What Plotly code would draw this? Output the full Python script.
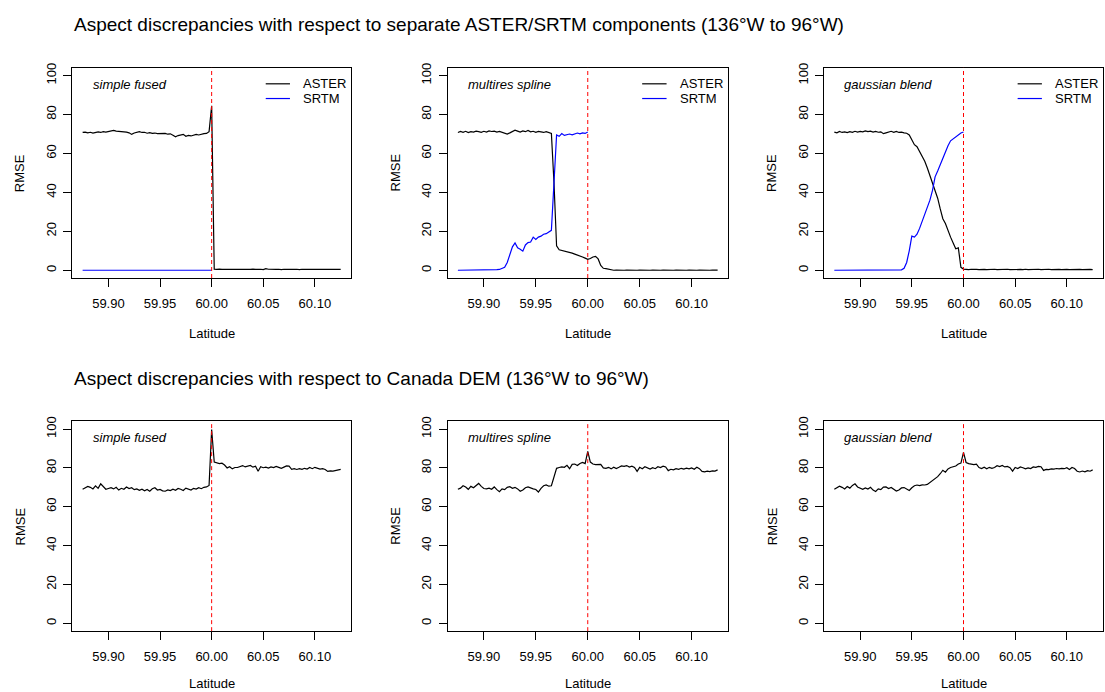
import plotly.graph_objects as go

# ---------------- data ----------------
LAT = [round(59.875 + 0.0025 * i, 4) for i in range(101)]
BOUNDARY_LAT = 60.0
X_TICKS = [59.90, 59.95, 60.00, 60.05, 60.10]
Y_TICKS = [0, 20, 40, 60, 80, 100]

TOP_TITLE = "Aspect discrepancies with respect to separate ASTER/SRTM components (136\u00b0W to 96\u00b0W)"
BOTTOM_TITLE = "Aspect discrepancies with respect to Canada DEM (136\u00b0W to 96\u00b0W)"
PANEL_NAMES = ["simple fused", "multires spline", "gaussian blend"]
SERIES_NAMES = ["ASTER", "SRTM"]

# top row: RMSE vs separate ASTER / SRTM components
FUSED_ASTER = [
    70.8, 71.0, 70.6, 70.9, 70.5, 70.9, 71.1, 70.8, 71.2, 71.0,
    71.4, 71.6, 71.9, 71.5, 71.4, 71.0, 71.2, 71.0, 70.6, 69.8,
    70.5, 70.9, 71.2, 70.8, 70.9, 70.4, 70.7, 70.3, 70.5, 70.2,
    70.2, 70.0, 70.3, 69.9, 70.1, 69.4, 68.6, 69.2, 69.5, 69.8,
    68.8, 69.3, 69.0, 69.6, 69.8, 69.5, 70.0, 70.2, 70.3, 71.2,
    84.5,
    0.5, 0.4, 0.6, 0.4, 0.5, 0.3, 0.5, 0.4, 0.6, 0.5,
    0.4, 0.5, 0.3, 0.5, 0.4, 0.6, 0.4, 0.5, 0.5, 0.3,
    0.8, 0.5, 0.4, 0.6, 0.4, 0.5, 0.3, 0.5, 0.4, 0.6,
    0.5, 0.4, 0.5, 0.3, 0.5, 0.4, 0.6, 0.4, 0.5, 0.5,
    0.3, 0.6, 0.5, 0.4, 0.6, 0.4, 0.5, 0.3, 0.5, 0.4,
]
FUSED_SRTM = [
    0, 0, 0, 0, 0, 0, 0, 0, 0, 0,
    0, 0, 0, 0, 0, 0, 0, 0, 0, 0,
    0, 0, 0, 0, 0, 0, 0, 0, 0, 0,
    0, 0, 0, 0, 0, 0, 0, 0, 0, 0,
    0, 0, 0, 0, 0, 0, 0, 0, 0, 0,
    0,
]
SPLINE_ASTER = [
    70.8, 71.3, 70.9, 71.4, 70.7, 71.2, 71.0, 71.5, 71.2, 70.9,
    71.4, 71.0, 71.6, 71.3, 71.5, 71.0, 71.3, 70.8, 70.4, 70.0,
    70.6, 71.2, 72.0, 71.5, 71.0, 71.6, 71.2, 71.8, 71.1, 71.4,
    70.9, 71.3, 71.0, 70.8, 71.2, 70.7, 70.3,
    45.0, 12.5, 10.5, 10.2, 10.0, 9.6, 9.2, 8.8, 8.3, 7.9, 7.4, 6.8,
    6.2, 5.6, 6.0, 6.8, 7.1, 5.8, 2.5, 1.0, 0.8, 0.6, 0.1,
    0.0, 0.1, 0.0, 0.1, 0.0, 0.1, 0.0, 0.0, 0.1, 0.0,
    0.1, 0.0, 0.1, 0.0, 0.0, 0.1, 0.0, 0.1, 0.0, 0.1,
    0.0, 0.0, 0.1, 0.0, 0.1, 0.0, 0.1, 0.0, 0.0, 0.1,
    0.0, 0.1, 0.0, 0.1, 0.0, 0.0, 0.1, 0.0, 0.1, 0.0,
    0.1,
]
SPLINE_SRTM = [
    0, 0, 0, 0, 0, 0, 0, 0, 0, 0, 0, 0,
    0.1, 0.3, 0.3, 0.3, 0.4, 0.8, 1.5, 4.0, 8.5, 12.0,
    14.0, 11.5, 10.8, 9.8, 13.0, 14.2, 14.5, 17.0, 15.8, 17.0,
    17.5, 18.5, 18.8, 19.5, 20.5, 45.0, 69.5, 68.8, 70.2, 69.3,
    69.8, 70.0, 69.6, 70.2, 70.5, 70.1, 70.6, 70.3, 71.0,
]
BLEND_ASTER = [
    71.0, 70.6, 71.3, 70.8, 71.1, 70.7, 71.2, 70.9, 71.4, 71.0,
    71.3, 71.1, 71.6, 71.2, 71.5, 71.0, 71.3, 70.9, 71.1, 70.2,
    70.6, 71.0, 71.4, 70.9, 71.3, 70.8, 71.0, 70.6, 70.4,
    69.5, 67.0, 64.5, 63.5, 61.0, 58.5, 56.0, 52.5, 48.5, 45.0,
    40.5, 37.0, 31.5, 26.5, 24.0, 20.0, 17.0, 14.0, 11.0, 11.5,
    1.5, 0.6,
    0.4, 0.3, 0.5, 0.3, 0.4, 0.3, 0.5, 0.4, 0.3, 0.4,
    0.3, 0.5, 0.3, 0.4, 0.3, 0.4, 0.5, 0.3, 0.4, 0.3,
    0.6, 0.4, 0.3, 0.5, 0.3, 0.4, 0.3, 0.4, 0.5, 0.3,
    0.4, 0.3, 0.5, 0.3, 0.4, 0.3, 0.4, 0.3, 0.5, 0.4,
    0.3, 0.4, 0.5, 0.3, 0.4, 0.3, 0.4, 0.3, 0.4, 0.3,
]
BLEND_SRTM = [
    0, 0, 0, 0, 0, 0, 0, 0, 0, 0,
    0, 0, 0, 0, 0, 0, 0, 0, 0, 0,
    0, 0, 0, 0, 0, 0,
    0.2, 1.0, 4.0, 10.0, 17.5, 17.0, 18.5, 21.5, 25.0, 28.5,
    32.0, 36.0, 41.0, 48.0, 51.0, 54.5, 58.0, 61.0, 64.0, 66.5,
    67.5, 68.8, 69.8, 70.5, 71.0,
]

# bottom row: RMSE vs Canada DEM
FUSED_CDEM = [
    69.0, 69.8, 70.5, 70.0, 69.2, 70.8, 69.5, 71.8, 70.2, 69.0,
    69.4, 69.8, 69.2, 70.0, 68.6, 69.5, 69.0, 70.2, 69.4, 69.8,
    68.8, 69.2, 68.5, 69.0, 68.2, 68.9, 68.0, 69.3, 69.8, 68.6,
    68.9, 68.2, 68.0, 68.7, 68.3, 69.0, 68.5, 69.4, 69.0, 68.4,
    69.6, 69.0, 68.6, 69.5, 69.1, 69.8, 69.3, 70.0, 70.2, 71.0,
    99.8,
    83.0, 82.5, 82.2, 82.4, 81.5, 80.0, 80.6, 79.5, 80.2, 80.2,
    80.9, 81.2, 80.5, 81.0, 81.3, 80.4, 80.9, 78.3, 80.6, 80.1,
    80.4, 79.9, 80.5, 80.2, 80.8, 80.3, 79.8, 80.4, 81.0, 80.9,
    79.3, 79.6, 79.2, 79.6, 79.3, 79.8, 79.4, 80.2, 79.6, 80.3,
    79.8, 79.4, 79.6, 79.2, 78.2, 78.5, 78.4, 78.6, 78.7, 79.2,
]
SPLINE_CDEM = [
    69.0, 69.6, 70.8, 70.2, 69.0, 70.5, 69.8, 71.0, 72.0, 70.5,
    69.4, 69.2, 69.6, 69.0, 70.2, 68.8, 67.8, 69.2, 68.8, 70.0,
    70.3, 69.5, 70.0, 69.2, 68.0, 68.6, 69.8, 70.2, 69.6, 69.2,
    68.9, 67.6, 69.5, 70.8, 71.2, 70.6, 70.8, 75.0, 79.8, 80.2,
    80.5, 80.3, 81.3, 79.6, 81.8, 82.0, 81.2, 82.3, 82.8, 82.2,
    88.5,
    83.0, 82.0, 81.7, 81.6, 81.8, 80.0, 79.8, 80.3, 79.5, 80.4,
    79.7, 80.3, 81.0, 80.8, 81.2, 80.4, 80.9, 80.2, 78.2, 80.3,
    79.6, 80.6, 80.0, 79.4, 80.1, 79.6, 80.6, 80.2, 80.9, 80.5,
    78.6, 79.3, 79.0, 79.6, 79.3, 79.8, 79.4, 79.9, 79.5, 80.0,
    79.3, 80.3, 79.6, 78.2, 78.0, 78.3, 78.1, 78.5, 78.4, 79.0,
]
BLEND_CDEM = [
    69.0, 69.8, 70.6, 70.0, 69.2, 70.4, 69.6, 71.0, 71.8, 70.2,
    69.4, 69.0, 69.7, 69.1, 70.0, 68.6, 67.9, 69.2, 68.8, 70.1,
    70.2, 69.4, 69.9, 69.0, 68.1, 68.6, 69.7, 69.9, 69.3, 68.4,
    69.8, 70.8, 71.2, 70.9, 71.3, 71.2, 71.5, 72.5, 73.5, 74.8,
    75.5, 77.0, 78.8, 77.8, 79.5, 80.2, 80.6, 81.0, 82.0, 82.5,
    88.0,
    82.8, 82.2, 81.9, 81.7, 81.9, 80.2, 79.7, 80.4, 79.6, 80.3,
    79.8, 80.2, 81.1, 80.7, 81.3, 80.5, 80.8, 80.1, 78.3, 80.2,
    79.7, 80.5, 80.1, 79.5, 80.0, 79.7, 80.5, 80.3, 80.8, 80.6,
    78.7, 79.2, 79.1, 79.5, 79.4, 79.7, 79.5, 79.8, 79.6, 80.1,
    79.2, 80.2, 79.7, 78.3, 77.9, 78.4, 78.0, 78.6, 78.3, 79.0,
]

TOP_SERIES = [(FUSED_ASTER, FUSED_SRTM), (SPLINE_ASTER, SPLINE_SRTM), (BLEND_ASTER, BLEND_SRTM)]
BOTTOM_SERIES = [FUSED_CDEM, SPLINE_CDEM, BLEND_CDEM]

# ---------------- styling / layout ----------------
W, H = 1105, 692
FONT = "Liberation Sans, Arial, Helvetica, sans-serif"
COLS = [(72.3, 351.0), (447.5, 728.0), (824.0, 1103.0)]
ROWS = [(63.3, 275.0), (419.3, 630.7)]
XTITLE_SHIFT = [-55, -52]
ASTER_COLOR = "#000000"
SRTM_COLOR = "#0000FF"
BOUNDARY_COLOR = "#FF0000"

fig = go.Figure()
annotations = []
shapes = []

def axis_ids(k):
    s = "" if k == 1 else str(k)
    return "x" + s, "y" + s, "xaxis" + s, "yaxis" + s

layout_axes = {}
k = 0
for r, (ry0, ry1) in enumerate(ROWS):
    for c, (cx0, cx1) in enumerate(COLS):
        k += 1
        xa, ya, xname, yname = axis_ids(k)
        layout_axes[xname] = dict(
            domain=[cx0 / W, cx1 / W], anchor=ya, range=[59.865, 60.135],
            tickmode="array", tickvals=X_TICKS, ticktext=[f"{v:.2f}" for v in X_TICKS],
            ticks="outside", ticklen=8, tickwidth=1, tickcolor="black",
            showline=True, mirror=True, linecolor="black", linewidth=1,
            showgrid=False, zeroline=False, ticklabelstandoff=5,
            tickfont=dict(size=13, color="black", family=FONT),
        )
        layout_axes[yname] = dict(
            domain=[1 - ry1 / H, 1 - ry0 / H], anchor=xa, range=[-4, 104],
            tickmode="array", tickvals=Y_TICKS, ticktext=[str(v) for v in Y_TICKS],
            tickangle=-90,
            ticks="outside", ticklen=8, tickwidth=1, tickcolor="black",
            showline=True, mirror=True, linecolor="black", linewidth=1,
            showgrid=False, zeroline=False, ticklabelstandoff=2,
            tickfont=dict(size=13, color="black", family=FONT),
        )
        # series
        if r == 0:
            aster, srtm = TOP_SERIES[c]
            fig.add_trace(go.Scatter(x=LAT[:len(aster)], y=aster, mode="lines",
                                     line=dict(color=ASTER_COLOR, width=1.2),
                                     name=SERIES_NAMES[0], showlegend=False, xaxis=xa, yaxis=ya))
            fig.add_trace(go.Scatter(x=LAT[:len(srtm)], y=srtm, mode="lines",
                                     line=dict(color=SRTM_COLOR, width=1.2),
                                     name=SERIES_NAMES[1], showlegend=False, xaxis=xa, yaxis=ya))
            # legend (R-style, no box)
            for j, (name, col) in enumerate(zip(SERIES_NAMES, [ASTER_COLOR, SRTM_COLOR])):
                ly = 0.924 - 0.07 * j
                shapes.append(dict(type="line", xref=xa + " domain", yref=ya + " domain",
                                   x0=0.694, x1=0.781, y0=ly, y1=ly,
                                   line=dict(color=col, width=1.2)))
                annotations.append(dict(text=name, xref=xa + " domain", yref=ya + " domain",
                                        x=0.82, y=ly, xanchor="left", yanchor="middle",
                                        showarrow=False, font=dict(size=13, color="black", family=FONT)))
        else:
            vals = BOTTOM_SERIES[c]
            fig.add_trace(go.Scatter(x=LAT[:len(vals)], y=vals, mode="lines",
                                     line=dict(color=ASTER_COLOR, width=1.2),
                                     name="Canada DEM", showlegend=False, xaxis=xa, yaxis=ya))
        # boundary dashed line
        shapes.append(dict(type="line", xref=xa, yref=ya + " domain",
                           x0=BOUNDARY_LAT, x1=BOUNDARY_LAT, y0=0, y1=1,
                           line=dict(color=BOUNDARY_COLOR, width=1, dash="4px,3px")))
        # panel label
        annotations.append(dict(text="<i>" + PANEL_NAMES[c] + "</i>", xref=xa + " domain", yref=ya + " domain",
                                x=0.066, y=0.923, xanchor="left", yanchor="middle", showarrow=False,
                                font=dict(size=13, color="black", family=FONT)))
        # axis titles
        annotations.append(dict(text="Latitude", xref=xa + " domain", yref=ya + " domain",
                                x=0.5, y=0, yshift=XTITLE_SHIFT[r], xanchor="center", yanchor="middle",
                                showarrow=False, font=dict(size=13, color="black", family=FONT)))
        annotations.append(dict(text="RMSE", xref=xa + " domain", yref=ya + " domain",
                                x=0, y=0.5, xshift=-52, xanchor="center", yanchor="middle",
                                textangle=-90, showarrow=False,
                                font=dict(size=13, color="black", family=FONT)))

# row titles
annotations.append(dict(text=TOP_TITLE, xref="paper", yref="paper", x=72 / W, y=1 - 20 / H,
                        xanchor="left", yanchor="middle", showarrow=False,
                        font=dict(size=19, color="black", family=FONT)))
annotations.append(dict(text=BOTTOM_TITLE, xref="paper", yref="paper", x=72 / W, y=1 - 376 / H,
                        xanchor="left", yanchor="middle", showarrow=False,
                        font=dict(size=19, color="black", family=FONT)))

fig.update_layout(
    width=W, height=H,
    margin=dict(l=0, r=0, t=0, b=0),
    paper_bgcolor="white", plot_bgcolor="white",
    showlegend=False,
    annotations=annotations, shapes=shapes,
    font=dict(family=FONT, color="black"),
    **layout_axes,
)

fig.write_html("out.html")
